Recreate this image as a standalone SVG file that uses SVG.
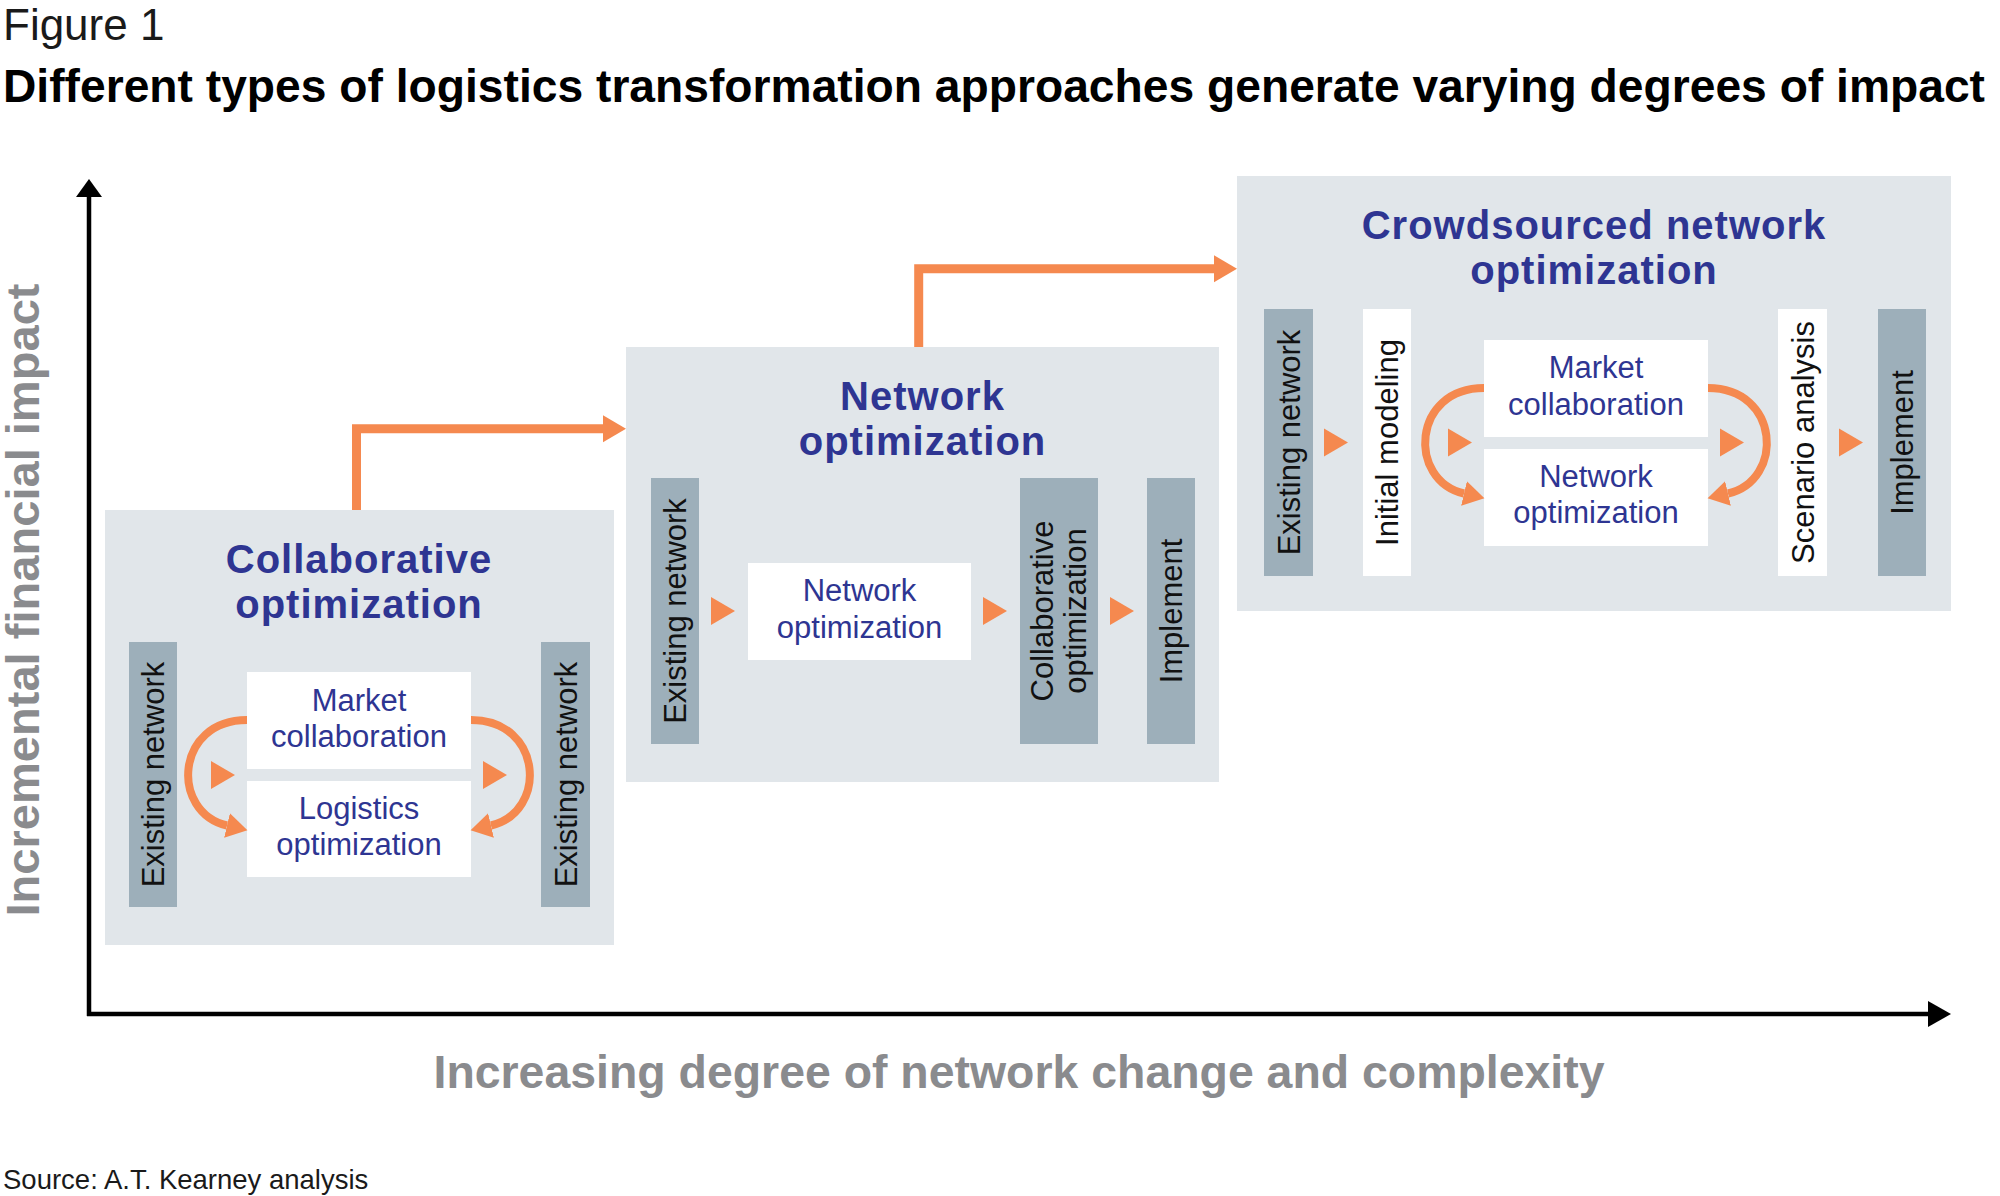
<svg xmlns="http://www.w3.org/2000/svg" width="2000" height="1196" viewBox="0 0 2000 1196">
  <style>
    .panel { fill: #E1E6EA; }
    .bar { fill: #9DAFBA; }
    .wbox { fill: #FFFFFF; }
    .ptitle { font-family: "Liberation Sans", Arial, sans-serif; font-weight: 700; font-size: 40px; letter-spacing: 1px; fill: #2E3592; text-anchor: middle; }
    .btext { font-family: "Liberation Sans", Arial, sans-serif; font-size: 31px; fill: #2E3592; text-anchor: middle; }
    .vtext { font-family: "Liberation Sans", Arial, sans-serif; font-size: 31px; fill: #111111; text-anchor: middle; }
    .axislabel { font-family: "Liberation Sans", Arial, sans-serif; font-weight: 700; font-size: 46px; fill: #8A8B8E; }
    .conn { fill: none; stroke: #F5894F; stroke-width: 9; stroke-linejoin: miter; }
    .arc { fill: none; stroke: #F5894F; stroke-width: 8; }
    .axis { fill: none; stroke: #000000; stroke-width: 4.5; }
  </style>
  <defs>
    <marker id="bigHead" markerUnits="userSpaceOnUse" markerWidth="30" markerHeight="30" viewBox="0 -15 30 30" refX="0" refY="0" orient="auto">
      <path d="M0,-13.5 L23,0 L0,13.5 z" fill="#F5894F"/>
    </marker>
    <marker id="arcHead" markerUnits="userSpaceOnUse" markerWidth="30" markerHeight="30" viewBox="0 -15 30 30" refX="0" refY="0" orient="auto">
      <path d="M0,-12.5 L21,0 L0,12.5 z" fill="#F5894F"/>
    </marker>
    <path id="tri" d="M0,-14 L24,0 L0,14 z" fill="#F5894F"/>
  </defs>

  <rect width="2000" height="1196" fill="#FFFFFF"/>

  <!-- Headings -->
  <text x="3" y="40" font-family="'Liberation Sans', Arial, sans-serif" font-size="44" fill="#1A1A1A">Figure 1</text>
  <text x="3" y="102" font-family="'Liberation Sans', Arial, sans-serif" font-size="46" font-weight="700" fill="#000000" textLength="1982" lengthAdjust="spacingAndGlyphs">Different types of logistics transformation approaches generate varying degrees of impact</text>

  <!-- Axes -->
  <g id="axes">
    <path class="axis" d="M89,1016 V195"/>
    <path d="M89,179 L76,197 L102,197 z" fill="#000000"/>
    <path class="axis" d="M87,1014 H1930"/>
    <path d="M1951,1014 L1928,1001 L1928,1027 z" fill="#000000"/>
    <text class="axislabel" transform="translate(39,600) rotate(-90)" text-anchor="middle" textLength="633" lengthAdjust="spacingAndGlyphs">Incremental financial impact</text>
    <text class="axislabel" x="1019" y="1088" text-anchor="middle" textLength="1171" lengthAdjust="spacingAndGlyphs">Increasing degree of network change and complexity</text>
  </g>

  <!-- Panel 1: Collaborative optimization -->
  <g id="panel-collaborative">
    <rect class="panel" x="105" y="510" width="509" height="435"/>
    <text class="ptitle"><tspan x="359" y="573">Collaborative</tspan><tspan x="359" y="618">optimization</tspan></text>
    <g id="p1-existing-left">
      <rect class="bar" x="129" y="642" width="48" height="265"/>
      <text class="vtext" transform="translate(153,774.5) rotate(-90)" y="11">Existing network</text>
    </g>
    <g id="p1-market">
      <rect class="wbox" x="247" y="672" width="224" height="97"/>
      <text class="btext"><tspan x="359" y="711">Market</tspan><tspan x="359" y="747">collaboration</tspan></text>
    </g>
    <g id="p1-logistics">
      <rect class="wbox" x="247" y="781" width="224" height="96"/>
      <text class="btext"><tspan x="359" y="819">Logistics</tspan><tspan x="359" y="855">optimization</tspan></text>
    </g>
    <g id="p1-existing-right">
      <rect class="bar" x="541" y="642" width="49" height="265"/>
      <text class="vtext" transform="translate(565.5,774.5) rotate(-90)" y="11">Existing network</text>
    </g>
  </g>

  <!-- Panel 2: Network optimization -->
  <g id="panel-network">
    <rect class="panel" x="626" y="347" width="593" height="435"/>
    <text class="ptitle"><tspan x="922.5" y="410">Network</tspan><tspan x="922.5" y="455">optimization</tspan></text>
    <g id="p2-existing">
      <rect class="bar" x="651" y="478" width="48" height="266"/>
      <text class="vtext" transform="translate(675,611) rotate(-90)" y="11">Existing network</text>
    </g>
    <g id="p2-netopt">
      <rect class="wbox" x="748" y="563" width="223" height="97"/>
      <text class="btext"><tspan x="859.5" y="601">Network</tspan><tspan x="859.5" y="638">optimization</tspan></text>
    </g>
    <g id="p2-collab">
      <rect class="bar" x="1020" y="478" width="78" height="266"/>
      <text class="vtext" transform="translate(1059,611) rotate(-90)"><tspan x="0" y="-6">Collaborative</tspan><tspan x="0" y="27">optimization</tspan></text>
    </g>
    <g id="p2-implement">
      <rect class="bar" x="1147" y="478" width="48" height="266"/>
      <text class="vtext" transform="translate(1171,611) rotate(-90)" y="11">Implement</text>
    </g>
  </g>

  <!-- Panel 3: Crowdsourced network optimization -->
  <g id="panel-crowdsourced">
    <rect class="panel" x="1237" y="176" width="714" height="435"/>
    <text class="ptitle"><tspan x="1594" y="239">Crowdsourced network</tspan><tspan x="1594" y="284">optimization</tspan></text>
    <g id="p3-existing">
      <rect class="bar" x="1264" y="309" width="49" height="267"/>
      <text class="vtext" transform="translate(1288.5,442.5) rotate(-90)" y="11">Existing network</text>
    </g>
    <g id="p3-initial">
      <rect class="wbox" x="1363" y="309" width="48" height="267"/>
      <text class="vtext" transform="translate(1387,442.5) rotate(-90)" y="11">Initial modeling</text>
    </g>
    <g id="p3-market">
      <rect class="wbox" x="1484" y="340" width="224" height="97"/>
      <text class="btext"><tspan x="1596" y="378">Market</tspan><tspan x="1596" y="415">collaboration</tspan></text>
    </g>
    <g id="p3-netopt">
      <rect class="wbox" x="1484" y="449" width="224" height="97"/>
      <text class="btext"><tspan x="1596" y="487">Network</tspan><tspan x="1596" y="523">optimization</tspan></text>
    </g>
    <g id="p3-scenario">
      <rect class="wbox" x="1778" y="309" width="49" height="267"/>
      <text class="vtext" transform="translate(1802.5,442.5) rotate(-90)" y="11">Scenario analysis</text>
    </g>
    <g id="p3-implement">
      <rect class="bar" x="1878" y="309" width="48" height="267"/>
      <text class="vtext" transform="translate(1902,442.5) rotate(-90)" y="11">Implement</text>
    </g>
  </g>

  <!-- Connectors -->
  <g id="connectors">
    <path class="conn" d="M356.5,510 V428.7 H603" marker-end="url(#bigHead)"/>
    <path class="conn" d="M918.7,347 V268.7 H1214" marker-end="url(#bigHead)"/>

    <path class="arc" d="M247,720 C175,720 170,812 227,825.5" marker-end="url(#arcHead)"/>
    <path class="arc" d="M471,720 C543,720 548,812 491,825.5" marker-end="url(#arcHead)"/>
    <path class="arc" d="M1484,388 C1412,388 1407,480 1464,493.5" marker-end="url(#arcHead)"/>
    <path class="arc" d="M1708,388 C1780,388 1785,480 1728,493.5" marker-end="url(#arcHead)"/>

    <use href="#tri" x="211" y="775"/>
    <use href="#tri" x="483" y="775"/>
    <use href="#tri" x="711" y="611"/>
    <use href="#tri" x="983" y="611"/>
    <use href="#tri" x="1110" y="611"/>
    <use href="#tri" x="1324" y="442.5"/>
    <use href="#tri" x="1448" y="442.5"/>
    <use href="#tri" x="1720" y="442.5"/>
    <use href="#tri" x="1839" y="442.5"/>
  </g>

  <text x="3" y="1189" font-family="'Liberation Sans', Arial, sans-serif" font-size="27.5" fill="#1A1A1A">Source: A.T. Kearney analysis</text>
</svg>
